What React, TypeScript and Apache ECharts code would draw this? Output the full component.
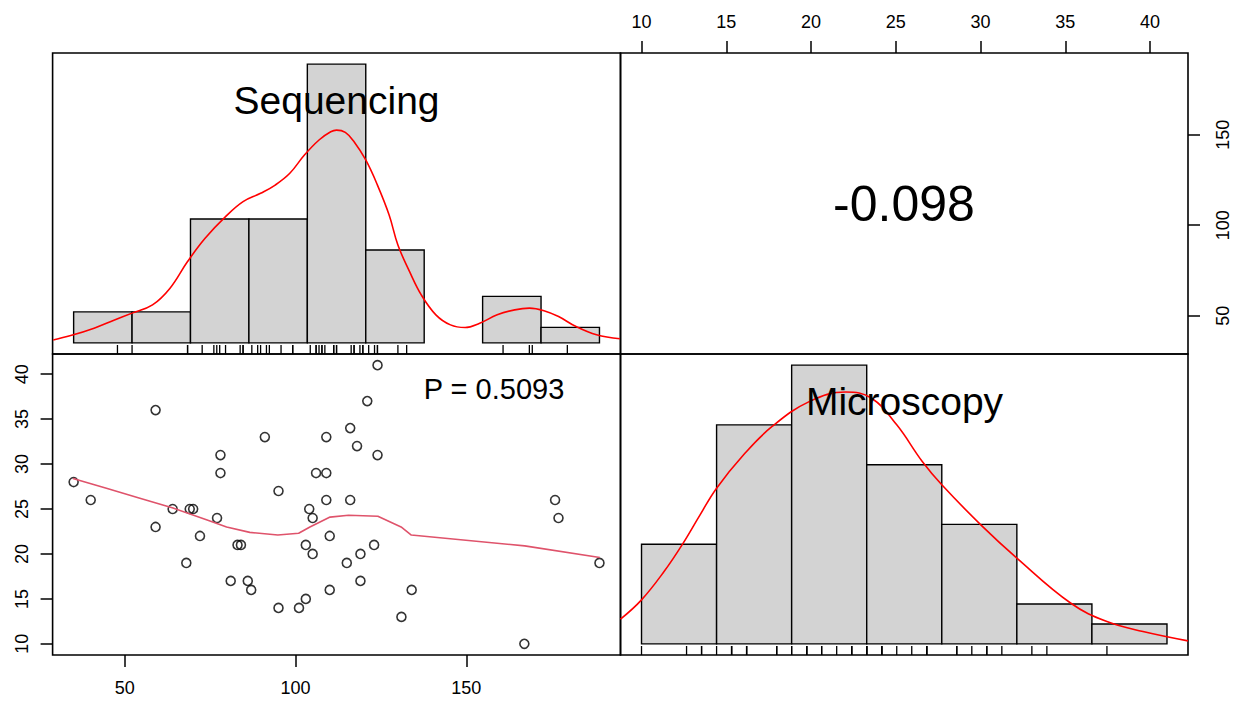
import React, { useEffect, useRef } from "react";
import * as echarts from "echarts";

// ---- data ----
const sequencing = [35, 40, 59, 59, 64, 69, 70, 68, 72, 77, 78, 78, 81, 83, 84, 86, 87, 91, 95, 95, 101, 103, 103, 104, 105, 105, 106, 109, 109, 109, 110, 110, 124, 121, 116, 118, 124, 116, 123, 119, 115, 119, 134, 131, 167, 176, 177, 189];
const microscopy = [28, 26, 36, 23, 25, 25, 25, 19, 22, 24, 31, 29, 17, 21, 21, 17, 16, 33, 27, 14, 14, 15, 21, 25, 24, 20, 29, 33, 29, 26, 22, 16, 41, 37, 34, 32, 31, 26, 21, 20, 19, 17, 16, 13, 10, 26, 24, 19];

const seqBreaks = [20, 40, 60, 80, 100, 120, 140, 160, 180, 200];
const seqCounts = [2, 2, 8, 8, 18, 6, 0, 3, 1];
const micBreaks = [10, 15, 20, 25, 30, 35, 40, 45];
const micCounts = [5, 11, 14, 9, 6, 2, 1];

const seqDensX = [13, 19, 27, 34, 40, 47, 53, 59, 65, 72, 78, 84, 89, 94, 99, 104, 108, 110, 113, 116, 120, 124, 128, 131, 135, 139, 144, 149, 154, 159, 165, 171, 176, 181, 186, 192, 199, 207];
const seqDensY = [0.19, 0.47, 0.95, 1.48, 1.92, 2.45, 3.53, 5.25, 6.75, 8.15, 9.12, 9.66, 10.19, 10.95, 12.13, 13.1, 13.63, 13.74, 13.59, 12.99, 11.81, 10.19, 8.26, 6.32, 4.6, 3.1, 1.81, 1.16, 0.99, 1.27, 1.81, 2.13, 2.24, 2.08, 1.7, 1.05, 0.52, 0.26];

const micDensX = [8.6, 10, 11.5, 12.7, 13.9, 15, 16.8, 18.7, 21.2, 23.6, 25.3, 27, 28.7, 30, 32.6, 35, 38.6, 41, 43.4, 46.4];
const micDensY = [1.24, 2.21, 3.63, 4.97, 6.48, 7.82, 9.5, 10.92, 12.18, 12.65, 12.35, 11.0, 9.16, 7.99, 5.98, 4.31, 2.04, 1.12, 0.62, 0.15];

const loessX = [34.8, 44.6, 54.4, 64.1, 73.9, 79.8, 86.6, 94.8, 100.9, 104.2, 110.1, 115.5, 124.1, 130.9, 133.9, 167.1, 189.1];
const loessY = [28.4, 27.3, 26.2, 25.1, 23.8, 23.0, 22.4, 22.1, 22.3, 23.0, 24.1, 24.3, 24.2, 23.0, 22.1, 20.9, 19.6];

const seqTicks = [50, 100, 150];
const micTicks = [10, 15, 20, 25, 30, 35, 40];
const corrLabel = "-0.098";
const pLabel = "P = 0.5093";

const FONT = '"Liberation Sans", Arial, Helvetica, sans-serif';

function ext(lo: number, hi: number) {
  const d = (hi - lo) * 0.04;
  return [lo - d, hi + d];
}

export default function App() {
  const ref = useRef<HTMLDivElement>(null);
  useEffect(() => {
    if (!ref.current) return;
    const chart = echarts.init(ref.current, undefined, { renderer: "svg" });

    const seqRange = ext(Math.min(...sequencing), Math.max(...sequencing));
    const micRange = ext(Math.min(...microscopy), Math.max(...microscopy));
    const seqDiag = ext(seqBreaks[0], seqBreaks[seqBreaks.length - 1]);
    const micDiag = ext(micBreaks[0], micBreaks[micBreaks.length - 1]);
    const seqCountRange = ext(0, Math.max(...seqCounts));
    const micCountRange = ext(0, Math.max(...micCounts));

    const L = 52.6, M = 620.5, R = 1188, T = 53, MID = 354, B = 655;

    const hidden = { show: false };
    const axisBase = {
      type: "value" as const,
      splitLine: { show: false },
      axisLine: { show: false },
    };
    const hiddenAxis = (gi: number, range: number[]) => ({
      ...axisBase,
      gridIndex: gi,
      min: range[0],
      max: range[1],
      axisLabel: hidden,
      axisTick: hidden,
    });
    const shownAxis = (gi: number, range: number[], ticks: number[], pos: string, rotate: number, margin: number) => ({
      ...axisBase,
      gridIndex: gi,
      min: range[0],
      max: range[1],
      position: pos,
      axisTick: { show: true, inside: false, length: 12, customValues: ticks, lineStyle: { color: "#000", width: 1.5 } },
      axisLabel: { show: true, customValues: ticks, rotate, margin, color: "#000", fontSize: 18, fontFamily: FONT },
    });

    const histSeries = (xi: number, breaks: number[], counts: number[]) => ({
      type: "custom",
      xAxisIndex: xi,
      yAxisIndex: xi,
      z: 1,
      data: counts.map((c, i) => [breaks[i], breaks[i + 1], c]).filter((d) => d[2] > 0),
      renderItem: (params: any, api: any) => {
        const p0 = api.coord([api.value(0), 0]);
        const p1 = api.coord([api.value(1), api.value(2)]);
        return {
          type: "rect",
          shape: { x: p0[0], y: p1[1], width: p1[0] - p0[0], height: p0[1] - p1[1] },
          style: { fill: "#D3D3D3", stroke: "#000", lineWidth: 1.4 },
        };
      },
    });
    const rugSeries = (xi: number, values: number[], ymin: number) => ({
      type: "custom",
      xAxisIndex: xi,
      yAxisIndex: xi,
      z: 2,
      data: values.map((v) => [v, 0]),
      renderItem: (params: any, api: any) => {
        const p = api.coord([api.value(0), ymin]);
        return {
          type: "line",
          shape: { x1: p[0], y1: p[1], x2: p[0], y2: p[1] - 9 },
          style: { stroke: "#000", lineWidth: 1.3 },
        };
      },
    });
    const densSeries = (xi: number, xs: number[], ys: number[]) => ({
      type: "line",
      xAxisIndex: xi,
      yAxisIndex: xi,
      z: 3,
      smooth: 0.4,
      showSymbol: false,
      symbol: "none",
      data: xs.map((x, i) => [x, ys[i]]),
      lineStyle: { color: "#FF0000", width: 1.6 },
    });

    const gridStyle = { show: true, borderColor: "#000", borderWidth: 1.6 };
    const option: any = {
      animation: false,
      backgroundColor: "#fff",
      grid: [
        { left: L, top: T, width: M - L, height: MID - T, ...gridStyle },
        { left: M, top: T, width: R - M, height: MID - T, ...gridStyle },
        { left: L, top: MID, width: M - L, height: B - MID, ...gridStyle },
        { left: M, top: MID, width: R - M, height: B - MID, ...gridStyle },
      ],
      xAxis: [
        hiddenAxis(0, seqDiag),
        shownAxis(1, micRange, micTicks, "top", 0, 22),
        shownAxis(2, seqRange, seqTicks, "bottom", 0, 24),
        hiddenAxis(3, micDiag),
      ],
      yAxis: [
        hiddenAxis(0, seqCountRange),
        shownAxis(1, seqRange, seqTicks, "right", 90, 26),
        shownAxis(2, micRange, micTicks, "left", 90, 22),
        hiddenAxis(3, micCountRange),
      ],
      series: [
        histSeries(0, seqBreaks, seqCounts),
        densSeries(0, seqDensX, seqDensY),
        rugSeries(0, sequencing, seqCountRange[0]),
        histSeries(3, micBreaks, micCounts),
        densSeries(3, micDensX, micDensY),
        rugSeries(3, microscopy, micCountRange[0]),
        {
          type: "scatter",
          xAxisIndex: 2,
          yAxisIndex: 2,
          z: 2,
          symbol: "circle",
          symbolSize: 9,
          data: sequencing.map((s, i) => [s, microscopy[i]]),
          itemStyle: { color: "rgba(0,0,0,0)", borderColor: "#000", borderWidth: 1.6 },
        },
        {
          type: "line",
          xAxisIndex: 2,
          yAxisIndex: 2,
          z: 3,
          showSymbol: false,
          symbol: "none",
          data: loessX.map((x, i) => [x, loessY[i]]),
          lineStyle: { color: "#DF536B", width: 1.6 },
        },
      ],
      graphic: [
        { type: "text", x: 336.5, y: 100, z: 100, style: { text: "Sequencing", fontSize: 39, fontFamily: FONT, fill: "#000", align: "center", verticalAlign: "middle" } },
        { type: "text", x: 904.5, y: 401, z: 100, style: { text: "Microscopy", fontSize: 39, fontFamily: FONT, fill: "#000", align: "center", verticalAlign: "middle" } },
        { type: "text", x: 904, y: 204, z: 100, style: { text: corrLabel, fontSize: 50, fontFamily: FONT, fill: "#000", align: "center", verticalAlign: "middle" } },
        { type: "text", x: 494, y: 389, z: 100, style: { text: pLabel, fontSize: 29, fontFamily: FONT, fill: "#000", align: "center", verticalAlign: "middle" } },
      ],
    };
    chart.setOption(option);
    return () => chart.dispose();
  }, []);
  return <div ref={ref} style={{ position: "absolute", left: 0, top: 0, width: 1240, height: 702, background: "#fff" }} />;
}
